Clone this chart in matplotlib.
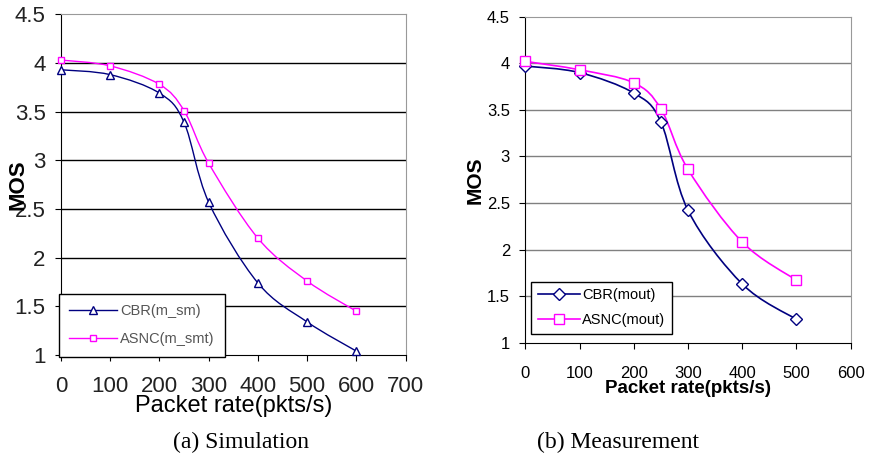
import numpy as np
import matplotlib.pyplot as plt
from matplotlib.path import Path
from matplotlib.patches import PathPatch
from matplotlib.lines import Line2D

# simulation panel (a)
sim_rate = [0, 100, 200, 250, 300, 400, 500, 600]
sim_cbr = [3.93, 3.88, 3.69, 3.39, 2.57, 1.74, 1.34, 1.04]
sim_asnc = [4.03, 3.97, 3.78, 3.51, 2.97, 2.20, 1.76, 1.45]

# measurement panel (b)
meas_rate = [0, 100, 200, 250, 300, 400, 500]
meas_cbr = [3.97, 3.90, 3.68, 3.37, 2.42, 1.63, 1.25]
meas_asnc = [4.02, 3.93, 3.79, 3.51, 2.86, 2.08, 1.67]

NAVY = '#000080'
MAGENTA = '#FF00FF'
SANS = 'Liberation Sans'


def smooth_path(x, y):
    # Excel style smoothed line: cubic bezier through the points
    p = np.column_stack([x, y]).astype(float)
    n = len(p)
    verts = [p[0]]
    codes = [Path.MOVETO]
    for i in range(n - 1):
        p0 = p[i - 1] if i > 0 else p[i]
        p1 = p[i]
        p2 = p[i + 1]
        p3 = p[i + 2] if i + 2 < n else p[i + 1]
        c1 = p1 + (p2 - p0) / 6.0
        c2 = p2 - (p3 - p1) / 6.0
        verts += [c1, c2, p2]
        codes += [Path.CURVE4] * 3
    return Path(verts, codes)


def draw_series(ax, x, y, color, marker, ms, lw):
    ax.add_patch(PathPatch(smooth_path(x, y), fill=False, edgecolor=color, lw=lw))
    ax.plot(x, y, linestyle='none', marker=marker, ms=ms, mec=color,
            mfc='white', mew=1.0, zorder=3, clip_on=False)


def style_axes(ax, xmax, grid_color):
    ax.set_ylim(1, 4.5)
    ax.set_xlim(0, xmax)
    ax.set_yticks(np.arange(1, 4.51, 0.5))
    ax.set_yticklabels(['1', '1.5', '2', '2.5', '3', '3.5', '4', '4.5'])
    ax.set_xticks(np.arange(0, xmax + 1, 100))
    for v in np.arange(1.5, 4.01, 0.5):
        ax.axhline(v, color=grid_color, lw=1.0, zorder=0)
    ax.spines['left'].set_color('black')
    ax.spines['bottom'].set_color('black')
    ax.spines['top'].set_color('#999999')
    ax.spines['right'].set_color('#999999')
    ax.tick_params(direction='out', length=4, color='black')


fig = plt.figure(figsize=(8.73, 4.57), dpi=100)

# ---- (a) Simulation ----
ax1 = fig.add_axes([0.0699, 0.2232, 0.3946, 0.7455])
style_axes(ax1, 700, 'black')
draw_series(ax1, sim_rate, sim_cbr, NAVY, '^', 5.5, 1.0)
draw_series(ax1, sim_rate, sim_asnc, MAGENTA, 's', 5, 1.0)
ax1.tick_params(axis='x', pad=11, labelsize=16)
ax1.tick_params(axis='y', pad=7, labelsize=16)
for lab in ax1.get_xticklabels() + ax1.get_yticklabels():
    lab.set_fontfamily(SANS)
    lab.set_color('#222222')
ax1.set_xlabel('Packet rate(pkts/s)', fontsize=17, family=SANS, labelpad=-1)
ax1.set_ylabel('MOS', fontsize=16, family=SANS, fontweight='bold')
ax1.yaxis.set_label_coords(-0.095, 0.5)
h1 = [Line2D([], [], color=NAVY, marker='^', ms=5.5, mfc='white', lw=1),
      Line2D([], [], color=MAGENTA, marker='s', ms=5, mfc='white', lw=1)]
leg1 = ax1.legend(h1, ['CBR(m_sm)', 'ASNC(m_smt)'], loc='lower left',
                  bbox_to_anchor=(-0.006, -0.005), fancybox=False, framealpha=1,
                  edgecolor='black', prop={'family': SANS, 'size': 10.5},
                  borderpad=0.7, labelspacing=1.0, handlelength=3.3,
                  handletextpad=0.2, borderaxespad=0)
leg1.get_frame().set_linewidth(1.0)
for t in leg1.get_texts():
    t.set_color('#555555')

# ---- (b) Measurement ----
ax2 = fig.add_axes([0.6017, 0.2501, 0.3728, 0.7134])
style_axes(ax2, 600, '#808080')
draw_series(ax2, meas_rate, meas_cbr, NAVY, 'D', 6, 1.2)
draw_series(ax2, meas_rate, meas_asnc, MAGENTA, 's', 7.5, 1.2)
ax2.tick_params(axis='x', pad=13, labelsize=12)
ax2.tick_params(axis='y', pad=7, labelsize=12)
for lab in ax2.get_xticklabels() + ax2.get_yticklabels():
    lab.set_fontfamily(SANS)
ax2.set_xlabel('Packet rate(pkts/s)', fontsize=13.5, family=SANS,
               fontweight='bold', labelpad=-1)
ax2.set_ylabel('MOS', fontsize=15, family=SANS, fontweight='bold')
ax2.yaxis.set_label_coords(-0.125, 0.5)
h2 = [Line2D([], [], color=NAVY, marker='D', ms=6, mfc='white', lw=1.2),
      Line2D([], [], color=MAGENTA, marker='s', ms=7.5, mfc='white', lw=1.2)]
leg2 = ax2.legend(h2, ['CBR(mout)', 'ASNC(mout)'], loc='lower left',
                  bbox_to_anchor=(0.018, 0.028), fancybox=False, framealpha=1,
                  edgecolor='black', prop={'family': SANS, 'size': 10.5},
                  borderpad=0.45, labelspacing=0.75, handlelength=2.9,
                  handletextpad=0.15, borderaxespad=0)
leg2.get_frame().set_linewidth(1.0)

# captions
fig.text(0.2766, 0.031, '(a) Simulation', ha='center', va='center',
         family='Liberation Serif', fontsize=17)
fig.text(0.708, 0.031, '(b) Measurement', ha='center', va='center',
         family='Liberation Serif', fontsize=17)

fig.savefig('out.png', dpi=100)
